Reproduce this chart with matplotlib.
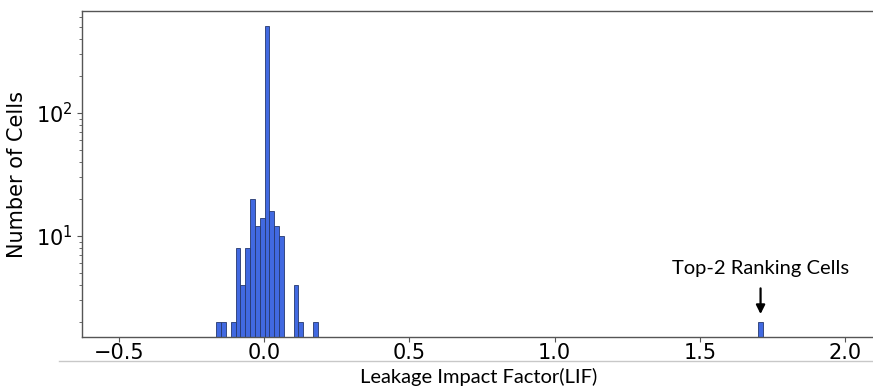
import matplotlib
matplotlib.use('Agg')
import matplotlib.pyplot as plt
from matplotlib.lines import Line2D

# histogram settings (LIF range of the data and number of bins)
lif_min = -0.1655
lif_max = 1.717
n_bins = 113

# bin centres of the non-empty bins and number of cells in each
lif_values = [-0.1572, -0.1405, -0.1072, -0.0905, -0.0739, -0.0572, -0.0406,
              -0.0239, -0.0072, 0.0094, 0.0261, 0.0428, 0.0594, 0.1094,
              0.1260, 0.1760, 1.7087]
cell_counts = [2, 2, 2, 8, 4, 8, 20, 12, 14, 514, 16, 12, 10, 4, 2, 2, 2]

x_ticks = [-0.5, 0.0, 0.5, 1.0, 1.5, 2.0]

fig = plt.figure(figsize=(8.73, 3.91), dpi=100)
ax = fig.add_axes([0.0939, 0.1373, 0.9075, 0.8338])

ax.hist(lif_values, bins=n_bins, range=(lif_min, lif_max), weights=cell_counts,
        log=True, color='royalblue', edgecolor='#26386e', linewidth=0.6)

ax.set_xlim(-0.6274, 2.1)
ax.set_ylim(1.5, 671)
ax.set_xticks(x_ticks)
ax.tick_params(axis='both', which='major', labelsize=15, length=3.5, width=0.8, color='#555555')
ax.tick_params(axis='x', pad=0.5)
ax.tick_params(axis='y', which='minor', length=2, width=0.6, color='#555555')
for s in ax.spines.values():
    s.set_color('#555555')
    s.set_linewidth(1.0)
ax.spines['right'].set_visible(False)

ax.set_ylabel('Number of Cells', fontsize=15, labelpad=6)

# annotation for the outlier bin
ax.annotate('', xy=(1.7087, 2.2), xytext=(1.7087, 3.95),
            arrowprops=dict(arrowstyle='-|>', color='black', lw=1.6, mutation_scale=13))
ax.text(1.7087, 5.4, 'Top-2 Ranking Cells', ha='center', va='center',
        fontsize=14.5, family='Lato')

# x label sits below a thin grey rule
fig.add_artist(Line2D([0.068, 1.0], [1 - 361 / 391, 1 - 361 / 391],
                      transform=fig.transFigure, color='#c8c8c8', lw=1))
fig.text(0.548, 1 - 377 / 391, 'Leakage Impact Factor(LIF)', ha='center', va='center',
         fontsize=14.5, family='Lato')

fig.savefig('out.png', dpi=100)
